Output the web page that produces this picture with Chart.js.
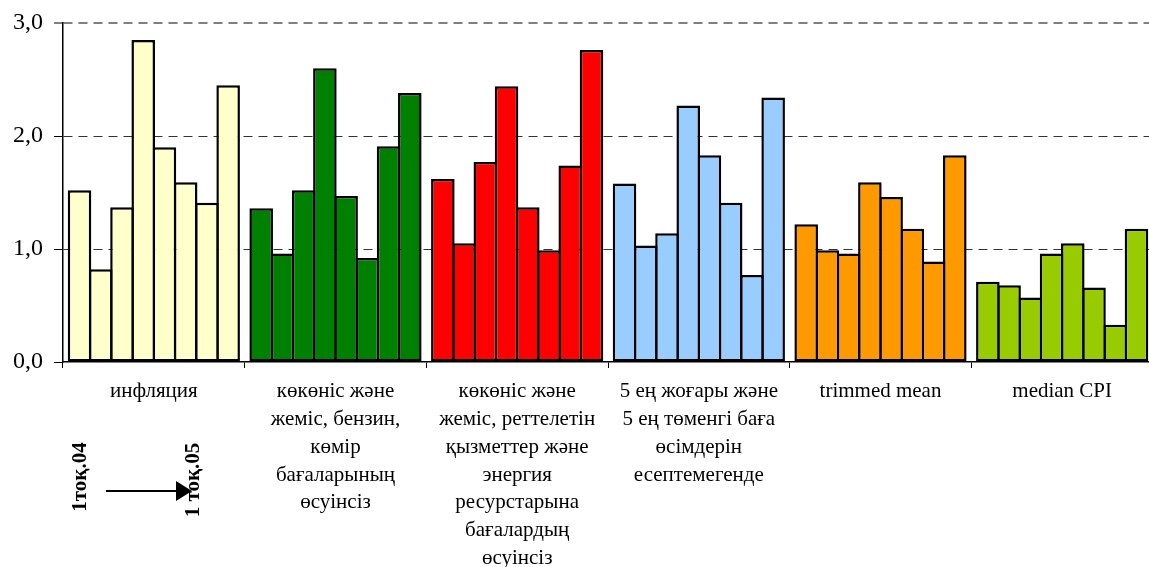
<!DOCTYPE html>
<html>
<head>
<meta charset="utf-8">
<script src="https://cdn.jsdelivr.net/npm/chart.js@4/dist/chart.umd.min.js"></script>
<style>
  html, body { margin: 0; padding: 0; background: #fff; overflow: hidden; }
  #wrap { position: absolute; left: 0; top: 0; width: 1160px; height: 567px; }
</style>
</head>
<body>
<div id="wrap"><canvas id="c"></canvas></div>
<script>
// Category labels (multi-line)
const categories = [
  ["инфляция"],
  ["көкөніс және", "жеміс, бензин,", "көмір", "бағаларының", "өсуінсіз"],
  ["көкөніс және", "жеміс, реттелетін", "қызметтер және", "энергия", "ресурстарына", "бағалардың", "өсуінсіз"],
  ["5 ең жоғары және", "5 ең төменгі баға", "өсімдерін", "есептемегенде"],
  ["trimmed mean"],
  ["median CPI"]
];

// Eight consecutive periods per measure (1 тоқ.04 → 1 тоқ.05)
const inflation      = [1.52, 0.82, 1.37, 2.85, 1.90, 1.59, 1.41, 2.45];
const exFoodFuel     = [1.36, 0.96, 1.52, 2.60, 1.47, 0.92, 1.91, 2.38];
const exFoodRegEnerg = [1.62, 1.05, 1.77, 2.44, 1.37, 0.99, 1.74, 2.76];
const exTopBottom5   = [1.58, 1.03, 1.14, 2.27, 1.83, 1.41, 0.77, 2.34];
const trimmedMean    = [1.22, 0.99, 0.96, 1.59, 1.46, 1.18, 0.89, 1.83];
const medianCPI      = [0.71, 0.68, 0.57, 0.96, 1.05, 0.66, 0.33, 1.18];

const yTicks = [0, 1, 2, 3];
const groupColors = ['#FFFFCC', '#008000', '#FF0000', '#99CCFF', '#FF9900', '#99CC00'];

const groups = [inflation, exFoodFuel, exFoodRegEnerg, exTopBottom5, trimmedMean, medianCPI];
const periodCount = inflation.length;
const datasets = [];
for (let p = 0; p < periodCount; p++) {
  datasets.push({
    label: 'p' + (p + 1),
    data: groups.map(g => g[p]),
    backgroundColor: groupColors,
    borderColor: '#000',
    borderWidth: 2.5,
    borderSkipped: false,
    categoryPercentage: 0.935,
    barPercentage: 1.11
  });
}

const serif = "'Liberation Serif', 'Times New Roman', serif";

// Period annotation under the first group: two rotated labels joined by an arrow
const periodNote = {
  id: 'periodNote',
  afterDraw(chart) {
    const ctx = chart.ctx;
    ctx.save();
    ctx.fillStyle = '#000';
    ctx.font = "bold 21px " + serif;
    ctx.textAlign = 'center';
    ctx.textBaseline = 'middle';
    const drawRot = (txt, x, y) => {
      ctx.save();
      ctx.translate(x, y);
      ctx.rotate(-Math.PI / 2);
      ctx.fillText(txt, 0, 0);
      ctx.restore();
    };
    drawRot('1тоқ.04', 81, 477);
    drawRot('1 тоқ.05', 194, 480);
    // arrow
    ctx.strokeStyle = '#000';
    ctx.lineWidth = 2;
    ctx.beginPath();
    ctx.moveTo(106, 491);
    ctx.lineTo(178, 491);
    ctx.stroke();
    ctx.beginPath();
    ctx.moveTo(192, 491);
    ctx.lineTo(176, 481);
    ctx.lineTo(176, 501);
    ctx.closePath();
    ctx.fill();
    ctx.restore();
  }
};

new Chart(document.getElementById('c'), {
  type: 'bar',
  data: { labels: categories, datasets },
  plugins: [periodNote],
  options: {
    responsive: true,
    maintainAspectRatio: false,
    animation: false,
    layout: { padding: { top: 23, right: 7, left: 0, bottom: 0 } },
    plugins: { legend: { display: false }, tooltip: { enabled: false } },
    scales: {
      x: {
        afterFit: s => { s.height = 205; },
        border: { display: true, color: '#000', width: 1.5 },
        grid: {
          offset: true,
          drawOnChartArea: false,
          drawTicks: true,
          tickLength: 6,
          color: '#000',
          lineWidth: 1
        },
        ticks: {
          color: '#000',
          font: { family: serif, size: 21, lineHeight: 1.32 },
          padding: 10,
          maxRotation: 0,
          autoSkip: false
        }
      },
      y: {
        min: 0,
        max: 3,
        afterFit: s => { s.width = 63; },
        afterBuildTicks: s => { s.ticks = yTicks.map(v => ({ value: v })); },
        border: { display: true, color: '#000', width: 1.5, dash: [9, 6] },
        grid: {
          color: c => c.tick.value === 3 ? '#808080' : (c.tick.value === 0 ? 'rgba(0,0,0,0)' : '#333'),
          lineWidth: c => c.tick.value === 3 ? 2 : 1,
          tickLength: 9,
          tickColor: '#000',
          tickWidth: 1,
          tickBorderDash: []
        },
        ticks: {
          color: '#000',
          padding: 11,
          font: { family: serif, size: 24, lineHeight: 1 },
          callback: v => v.toFixed(1).replace('.', ',')
        }
      }
    }
  }
});
</script>
</body>
</html>
